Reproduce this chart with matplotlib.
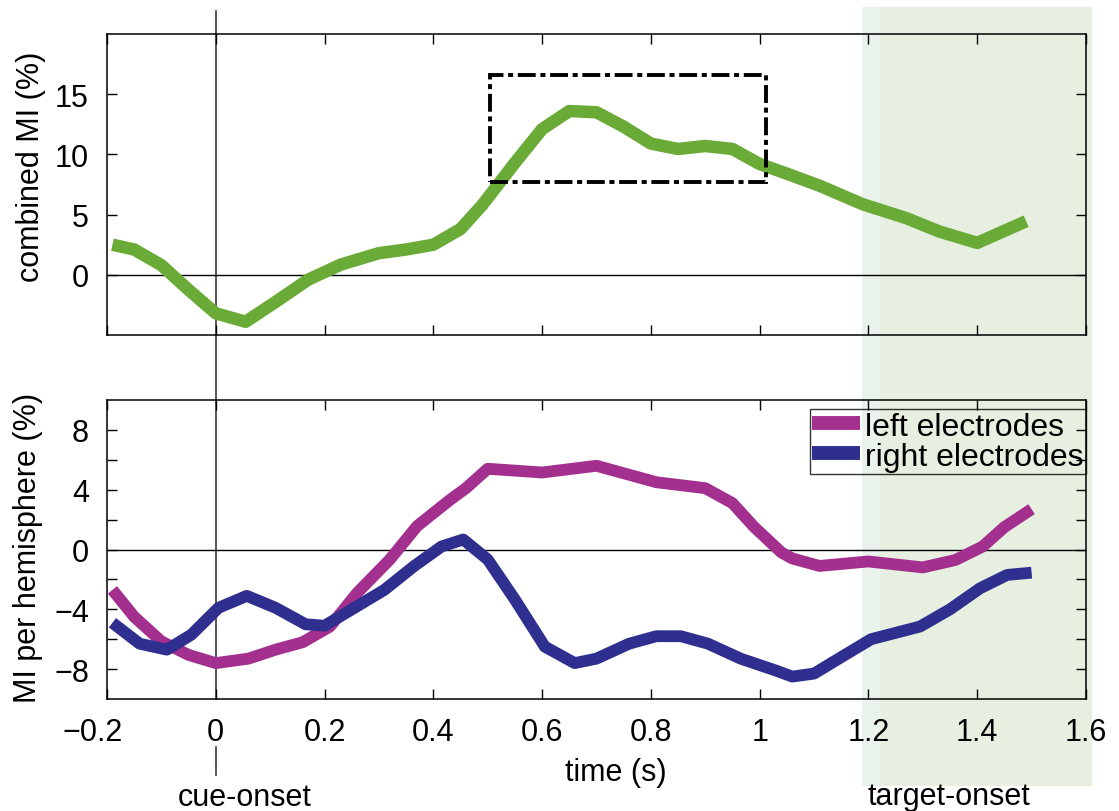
import matplotlib
matplotlib.use("Agg")
import matplotlib.pyplot as plt
import matplotlib.transforms as mtransforms
from matplotlib.patches import Rectangle
from matplotlib.lines import Line2D

plt.rcParams['font.family'] = ['Liberation Sans', 'DejaVu Sans']

# ---- data -------------------------------------------------------------
# combined modulation index (%)
t_comb = [-0.19, -0.15, -0.10, -0.05, 0.00, 0.055, 0.115, 0.17, 0.23, 0.30,
          0.35, 0.40, 0.45, 0.49, 0.55, 0.60, 0.65, 0.70, 0.75, 0.80, 0.85,
          0.90, 0.95, 1.00, 1.05, 1.11, 1.19, 1.27, 1.33, 1.40, 1.49]
mi_comb = [2.5, 2.1, 0.8, -1.25, -3.2, -3.9, -2.1, -0.4, 0.85, 1.8,
           2.1, 2.5, 3.8, 5.8, 9.3, 12.1, 13.6, 13.5, 12.3, 10.9, 10.45,
           10.7, 10.45, 9.2, 8.4, 7.4, 5.85, 4.7, 3.6, 2.65, 4.45]

# MI per hemisphere (%)
t_left = [-0.19, -0.15, -0.10, -0.05, 0.00, 0.06, 0.11, 0.16, 0.21, 0.26,
          0.32, 0.37, 0.43, 0.46, 0.50, 0.60, 0.70, 0.76, 0.81, 0.90, 0.95,
          0.99, 1.04, 1.06, 1.11, 1.20, 1.30, 1.36, 1.41, 1.45, 1.50]
mi_left = [-2.7, -4.5, -6.15, -7.05, -7.6, -7.3, -6.7, -6.2, -5.15, -2.9,
           -0.67, 1.56, 3.3, 4.1, 5.4, 5.15, 5.6, 5.0, 4.5, 4.1, 3.1,
           1.5, -0.2, -0.6, -1.1, -0.8, -1.2, -0.7, 0.2, 1.5, 2.7]

t_right = [-0.19, -0.14, -0.09, -0.045, 0.005, 0.057, 0.11, 0.165, 0.20, 0.255,
           0.31, 0.365, 0.415, 0.455, 0.50, 0.55, 0.605, 0.66, 0.70, 0.76,
           0.81, 0.855, 0.905, 0.965, 1.03, 1.06, 1.10, 1.15, 1.205, 1.295,
           1.35, 1.405, 1.455, 1.50]
mi_right = [-4.9, -6.3, -6.7, -5.7, -3.9, -3.1, -3.9, -5.0, -5.1, -3.9,
            -2.7, -1.1, 0.2, 0.67, -0.67, -3.35, -6.5, -7.6, -7.3, -6.3,
            -5.8, -5.8, -6.3, -7.3, -8.1, -8.5, -8.3, -7.2, -6.0, -5.15,
            -4.0, -2.6, -1.7, -1.55]

series_labels = ['left electrodes', 'right electrodes']

x_ticks = [-0.2, 0.0, 0.2, 0.4, 0.6, 0.8, 1.0, 1.2, 1.4, 1.6]
x_ticklabels = ['\u22120.2', '0', '0.2', '0.4', '0.6', '0.8', '1', '1.2', '1.4', '1.6']
top_yticks = [0, 5, 10, 15]
top_yticklabels = ['0', '5', '10', '15']
bot_yticks = [-8, -6, -4, -2, 0, 2, 4, 6, 8]
bot_yticklabels = ['\u22128', '', '\u22124', '', '0', '', '4', '', '8']

# highlighted peak window (time, MI) and target window (time)
peak_box_t = (0.505, 1.012)
peak_box_mi = (7.7, 16.6)
target_window = (1.188, 1.611)
cue_time = 0.0

# ---- figure -----------------------------------------------------------
W, H = 1119, 812
fig = plt.figure(figsize=(W / 100, H / 100), dpi=100)
fig.patch.set_facecolor('white')

ax_l, ax_r = 107, 1086
ax1 = fig.add_axes([ax_l / W, 1 - 336 / H, (ax_r - ax_l) / W, (336 - 35) / H])
ax2 = fig.add_axes([ax_l / W, 1 - 700 / H, (ax_r - ax_l) / W, (700 - 401) / H])

FS = 22
GREEN = '#6aaa37'
MAGENTA = '#a3308f'
BLUE = '#2e2f8e'

for ax in (ax1, ax2):
    ax.set_facecolor('none')
    ax.set_xlim(-0.2, 1.6)
    ax.set_xticks(x_ticks)
    ax.tick_params(direction='in', length=7, width=1.0, top=True, right=True,
                   labelsize=FS, pad=13, colors='black')
    ax.tick_params(axis='x', pad=13)
    for s in ax.spines.values():
        s.set_linewidth(1.1)
    ax.axhline(0, color='black', lw=1.0, zorder=1)

ax1.set_ylim(-5, 20)
ax1.set_yticks(top_yticks)
ax1.set_yticklabels(top_yticklabels)
ax1.set_xticklabels([])

ax2.set_ylim(-10, 10)
ax2.set_yticks(bot_yticks)
ax2.set_yticklabels(bot_yticklabels)
ax2.set_xticklabels(x_ticklabels)
# the first label sits slightly left of its tick
ax2.get_xticklabels()[0].set_transform(
    ax2.get_xticklabels()[0].get_transform()
    + mtransforms.ScaledTranslation(-14 / 100, 0, fig.dpi_scale_trans))

# curves
ax1.plot(t_comb, mi_comb, color=GREEN, lw=9, solid_capstyle='butt',
         solid_joinstyle='round', zorder=3)
ax1.add_patch(Rectangle((peak_box_t[0], peak_box_mi[0]),
                        peak_box_t[1] - peak_box_t[0],
                        peak_box_mi[1] - peak_box_mi[0],
                        fill=False, edgecolor='black', lw=2.8,
                        linestyle=(0, (4.6, 1.2, 1.3, 1.2)), zorder=4))

ax2.plot(t_left, mi_left, color=MAGENTA, lw=8.5, solid_capstyle='butt',
         solid_joinstyle='round', zorder=3, label=series_labels[0])
ax2.plot(t_right, mi_right, color=BLUE, lw=8.5, solid_capstyle='butt',
         solid_joinstyle='round', zorder=3, label=series_labels[1])

leg = ax2.legend(loc='upper right', bbox_to_anchor=(1.0, 1 - 9 / 299),
                 borderaxespad=0, fontsize=23, handlelength=1.5,
                 handletextpad=0.15, labelspacing=0.0, borderpad=0.08,
                 fancybox=False, frameon=True)
leg.get_frame().set_facecolor('none')
leg.get_frame().set_edgecolor('black')
leg.get_frame().set_linewidth(1.0)
for h in leg.get_lines():
    h.set_linewidth(10)

# target window shading (spans both panels) and cue-onset marker
blend = mtransforms.blended_transform_factory(ax2.transData, fig.transFigure)
fig.patches.append(Rectangle((target_window[0], 1 - 787 / H),
                             target_window[1] - target_window[0],
                             (787 - 8) / H, transform=blend,
                             facecolor='#e7f0e0', edgecolor='none', zorder=-2))
fig.patches.append(Rectangle((target_window[0], 1 - 787 / H), 0.033,
                             (787 - 8) / H, transform=blend,
                             facecolor='#eaf2ec', edgecolor='none', zorder=-1.9))
fig.lines.append(Line2D([cue_time, cue_time], [1 - 12 / H, 1 - 700 / H],
                        transform=blend, color='#2e2424', lw=1.1, zorder=-1))
fig.lines.append(Line2D([cue_time, cue_time], [1 - 748 / H, 1 - 776 / H],
                        transform=blend, color='#2e2424', lw=1.1, zorder=-1))

# labels
fig.text(31 / W, 1 - 167 / H, 'combined MI (%)', rotation=90, ha='center',
         va='center', fontsize=FS)
fig.text(28 / W, 1 - 548 / H, 'MI per hemisphere (%)', rotation=90,
         ha='center', va='center', fontsize=FS)
fig.text(616 / W, 1 - 773 / H, 'time (s)', ha='center', va='center', fontsize=FS)
fig.text(245 / W, 1 - 806 / H, 'cue-onset', ha='center', va='baseline', fontsize=FS)
fig.text(949 / W, 1 - 805 / H, 'target-onset', ha='center', va='baseline', fontsize=FS)

fig.savefig('out.png', dpi=100)
